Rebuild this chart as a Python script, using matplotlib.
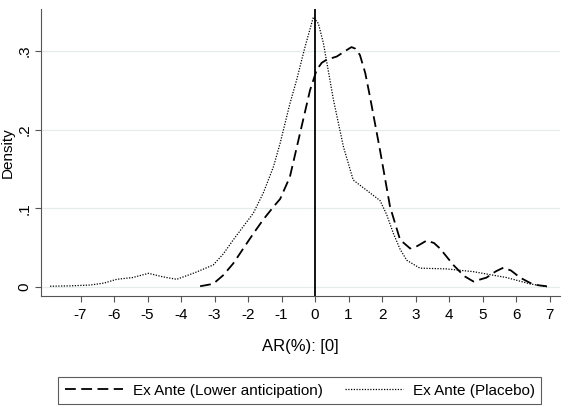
import numpy as np
import matplotlib.pyplot as plt

plt.rcParams["font.family"] = ["Liberation Sans", "DejaVu Sans"]
plt.rcParams["axes.unicode_minus"] = False

# Kernel density estimates (AR in %, density)
lower_x = [-3.43, -3.04, -2.74, -2.44, -2.14, -1.84, -1.54, -1.24, -1.04, -0.75,
           -0.45, -0.15, 0.05, 0.2, 0.35, 0.65, 0.9, 1.09, 1.2, 1.34, 1.5,
           1.64, 1.94, 2.24, 2.54, 2.84, 3.05, 3.33, 3.55, 3.73, 4.13, 4.45,
           4.73, 5.12, 5.4, 5.62, 5.85, 6.12, 6.52, 6.92]
lower_y = [0.001, 0.004, 0.015, 0.030, 0.049, 0.068, 0.086, 0.102, 0.112, 0.140,
           0.195, 0.250, 0.276, 0.285, 0.289, 0.293, 0.300, 0.305, 0.303, 0.295, 0.272,
           0.242, 0.174, 0.102, 0.060, 0.049, 0.052, 0.059, 0.056, 0.049, 0.028, 0.014,
           0.007, 0.012, 0.020, 0.0245, 0.021, 0.012, 0.003, 0.001]

placebo_x = [-7.91, -7.3, -6.72, -6.3, -5.92, -5.45, -4.97, -4.55, -4.13, -3.6,
             -3.04, -2.74, -2.44, -2.14, -1.84, -1.54, -1.24, -1.04, -0.75, -0.55,
             -0.3, -0.05, 0.1, 0.25, 0.55, 0.85, 1.14, 1.54, 1.94, 2.14, 2.34,
             2.54, 2.74, 3.13, 3.93, 4.73, 5.72, 6.42, 6.97]
placebo_y = [0.001, 0.0015, 0.0025, 0.005, 0.0098, 0.012, 0.0174, 0.013, 0.0098, 0.018,
             0.028, 0.042, 0.060, 0.077, 0.094, 0.120, 0.153, 0.183, 0.233, 0.263,
             0.305, 0.343, 0.335, 0.310, 0.238, 0.178, 0.136, 0.123, 0.110, 0.092, 0.068,
             0.048, 0.034, 0.024, 0.023, 0.0195, 0.012, 0.004, 0.0]

x_ticks = list(range(-7, 8))
y_ticks = [0, 0.1, 0.2, 0.3]
y_tick_labels = ["0", ".1", ".2", ".3"]

fig = plt.figure(figsize=(5.79, 4.09), dpi=100)
ax = fig.add_axes([0.0708, 0.2763, 0.8962, 0.7017])

ax.plot(lower_x, lower_y, color="black", linewidth=1.3,
        dashes=(6, 3), label="Ex Ante (Lower anticipation)")
ax.plot(placebo_x, placebo_y, color="black", linewidth=0.9,
        dashes=(1, 1.2), label="Ex Ante (Placebo)")
ax.axvline(0, color="black", linewidth=1.3)

ax.set_xlim(-8.18, 7.31)
ax.set_ylim(-0.0114, 0.3534)
ax.set_xticks(x_ticks)
ax.set_yticks(y_ticks)
ax.set_yticklabels(y_tick_labels, rotation=90, va="center")
ax.tick_params(axis="both", labelsize=11, length=4, color="#555555")
ax.tick_params(axis="x", pad=5)
ax.tick_params(axis="y", pad=3)
ax.grid(axis="y", color="#e6ecec", linewidth=0.9)
ax.set_axisbelow(True)

for side in ["top", "right"]:
    ax.spines[side].set_visible(False)
for side in ["left", "bottom"]:
    ax.spines[side].set_color("#555555")

ax.set_xlabel("AR(%): [0]", fontsize=12, labelpad=12)
ax.set_ylabel("Density", fontsize=11)
ax.yaxis.set_label_coords(-0.051, 0.5)

leg = fig.legend(loc="center", bbox_to_anchor=(0.518, 0.045), ncol=2,
                 fontsize=11, frameon=True, fancybox=False, edgecolor="#333333",
                 handlelength=3.8, handletextpad=0.6, columnspacing=1.5,
                 borderpad=0.45)
leg.get_frame().set_linewidth(0.8)

fig.savefig("out.png", dpi=100)
